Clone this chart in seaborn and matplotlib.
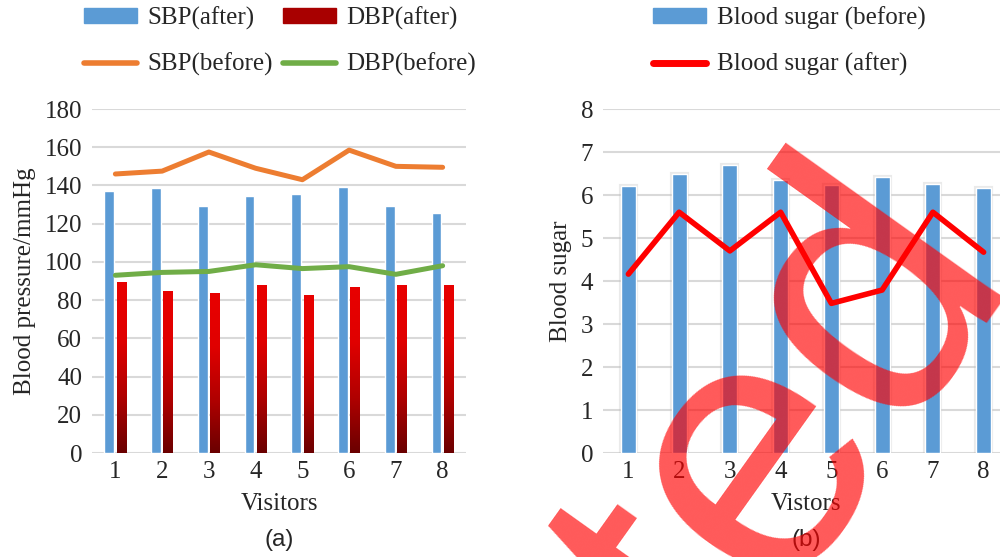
import numpy as np
import pandas as pd
import matplotlib
matplotlib.use("Agg")
import matplotlib.pyplot as plt
import matplotlib.patheffects as pe
import seaborn as sns
from matplotlib.lines import Line2D
from matplotlib.patches import Patch
from matplotlib.colors import LinearSegmentedColormap

visitors = ["1", "2", "3", "4", "5", "6", "7", "8"]

# (a) blood pressure, mmHg
sbp_after = [137, 138.5, 129.5, 134.5, 135.5, 139, 129, 125.5]
dbp_after = [89, 84.5, 83.5, 87.5, 82.5, 86.5, 87.5, 87.5]
sbp_before = [146, 147.5, 157.5, 149, 143, 158.5, 150, 149.5]
dbp_before = [93, 94.5, 95, 98.5, 96.5, 97.5, 93.5, 98]

# (b) blood sugar
sugar_before = [6.21, 6.49, 6.69, 6.34, 6.23, 6.43, 6.26, 6.16]
sugar_after = [4.16, 5.6, 4.7, 5.6, 3.48, 3.79, 5.6, 4.67]

BLUE = "#5B9BD5"
RED = "#E00000"
ORANGE = "#ED7D31"
GREEN = "#70AD47"
GRID = "#D9D9D9"
FS = 18

sns.set_style("white")
plt.rcParams["font.family"] = ["Liberation Serif", "DejaVu Serif"]

fig = plt.figure(figsize=(10, 5.57), dpi=100)
ax1 = fig.add_axes([0.092, 0.1867, 0.374, 0.6176])
ax2 = fig.add_axes([0.603, 0.1867, 0.406, 0.6176])

# ---- panel (a)
bp = pd.DataFrame({
    "Visitors": visitors * 2,
    "value": sbp_after + dbp_after,
    "series": ["SBP(after)"] * 8 + ["DBP(after)"] * 8,
})
sns.barplot(data=bp, x="Visitors", y="value", hue="series",
            palette=[BLUE, RED], width=0.52, gap=0.2, saturation=1,
            legend=False, ax=ax1, zorder=2)

# gradient fill for the DBP bars (bright red on top, dark at the base)
grad_cmap = LinearSegmentedColormap.from_list("dbp", ["#6A0000", "#B00000", "#E00000", "#E80000"])
grad = np.linspace(0, 1, 256).reshape(-1, 1)
for bar in ax1.containers[1]:
    x0, w, h = bar.get_x(), bar.get_width(), bar.get_height()
    ax1.imshow(grad, extent=[x0, x0 + w, 0, h], aspect="auto",
               cmap=grad_cmap, origin="lower", zorder=2)
    bar.set_visible(False)

x = np.arange(len(visitors))
sns.lineplot(x=x, y=sbp_before, color=ORANGE, lw=3.6, ax=ax1, zorder=3)
sns.lineplot(x=x, y=dbp_before, color=GREEN, lw=3.6, ax=ax1, zorder=3)

ax1.set_xlim(-0.5, 7.5)
ax1.set_ylim(0, 180)
ax1.set_yticks(range(0, 181, 20))
ax1.set_xticks(x)
ax1.set_xticklabels(visitors)
ax1.set_xlabel("Visitors", fontsize=FS, labelpad=7)
ax1.set_ylabel("Blood pressure/mmHg", fontsize=FS, labelpad=6)

# ---- panel (b)
sns.barplot(x=visitors, y=sugar_before, color=BLUE, width=0.3, saturation=1,
            ax=ax2, zorder=2)
for bar in ax2.containers[0]:
    bar.set_path_effects([pe.Stroke(linewidth=3, foreground="#BBBBBB", alpha=0.3),
                          pe.Normal()])
sns.lineplot(x=x, y=sugar_after, color="#FF0000", lw=4, ax=ax2, zorder=3)

ax2.set_xlim(-0.5, 7.5)
ax2.set_ylim(0, 8)
ax2.set_yticks(range(0, 9))
ax2.set_xlabel("Vistors", fontsize=FS, labelpad=7)
ax2.set_ylabel("Blood sugar", fontsize=FS, labelpad=6)

for ax in (ax1, ax2):
    ax.set_axisbelow(True)
    ax.grid(axis="y", color=GRID, lw=1.5)
    ax.grid(axis="x", visible=False)
    sns.despine(ax=ax, left=True, bottom=True, top=True, right=True)
    ax.tick_params(length=0, labelsize=FS)
    ax.tick_params(axis="y", pad=7)
    ax.tick_params(axis="x", pad=6)

# ---- legends
h1 = [Patch(color=BLUE), Line2D([], [], color=ORANGE, lw=4, solid_capstyle="round"),
      Patch(color="#A80000"), Line2D([], [], color=GREEN, lw=4, solid_capstyle="round")]
l1 = ["SBP(after)", "SBP(before)", "DBP(after)", "DBP(before)"]
fig.legend(h1, l1, loc="upper left", bbox_to_anchor=(0.084, 0.9885), ncol=2,
           frameon=False, fontsize=FS, borderpad=0, borderaxespad=0,
           handlelength=2.12, handleheight=0.52, handletextpad=0.42,
           columnspacing=0.4, labelspacing=0.92)

h2 = [Patch(color=BLUE), Line2D([], [], color="#FF0000", lw=5)]
l2 = ["Blood sugar (before)", "Blood sugar (after)"]
fig.legend(h2, l2, loc="upper left", bbox_to_anchor=(0.653, 0.9885), ncol=1,
           frameon=False, fontsize=FS, borderpad=0, borderaxespad=0,
           handlelength=2.12, handleheight=0.52, handletextpad=0.45,
           labelspacing=0.92)

fig.text(0.279, 1 - 540 / 557, "(a)", ha="center", va="center", fontsize=17.5,
         family="Liberation Sans")
fig.text(0.806, 1 - 540 / 557, "(b)", ha="center", va="center", fontsize=17.5,
         family="Liberation Sans")

# watermark stamped across panel (b)
fig.text(1.007, 1 - 252 / 557, "Retracted", rotation=54.5, rotation_mode="anchor",
         ha="right", va="baseline", fontsize=266, color="red", alpha=0.65,
         family="Liberation Sans", zorder=10)

fig.savefig("out.png", dpi=100)
